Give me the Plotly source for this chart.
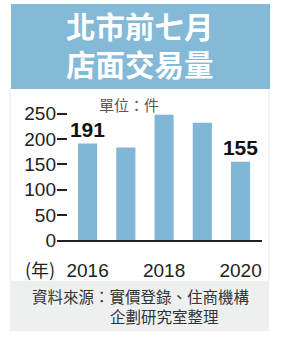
import plotly.graph_objects as go

years = [2016, 2017, 2018, 2019, 2020]
values = [191, 183, 248, 232, 155]
value_labels = ["191", "", "", "", "155"]
x_tick_vals = [2016, 2018, 2020]
x_tick_text = ["2016", "2018", "2020"]
y_tick_vals = [0, 50, 100, 150, 200, 250]
y_tick_text = ["0", "50", "100", "150", "200", "250"]
title_lines = ["北市前七月", "店面交易量"]
unit_text = "單位：件"
year_text = "(年)"
source_lines = ["資料來源：實價登錄、住商機構", "企劃研究室整理"]

W, H = 299, 342
BLUE = "#84b9d7"
BAR = "#80b7d6"
CJK = "Noto Sans CJK TC"
LAT = "Liberation Sans, Arial, sans-serif"


def px(x):
    return x / W


def py(y):
    return 1 - y / H


fig = go.Figure()
fig.add_trace(go.Bar(
    x=years, y=values, width=0.5, marker=dict(color=BAR, line=dict(width=0)),
    text=value_labels, textposition="outside", cliponaxis=False, constraintext="none",
    textfont=dict(family=LAT, size=21, color="#111"),
    texttemplate="<b>%{text}</b>",
))

y0_px, y_scale = 247, 0.529
ymax = 262
top_px = y0_px - ymax * y_scale

shapes = [
    dict(type="rect", xref="paper", yref="paper", x0=px(10), x1=px(269), y0=py(290), y1=py(88),
         fillcolor="white", line=dict(color="#e8e8e8", width=1), layer="below"),
    dict(type="rect", xref="paper", yref="paper", x0=px(11), x1=px(270), y0=py(89), y1=py(0),
         fillcolor=BLUE, line=dict(width=0), layer="below"),
    dict(type="rect", xref="paper", yref="paper", x0=px(10), x1=px(269), y0=py(342), y1=py(290),
         fillcolor="#eef0f0", line=dict(width=0), layer="below"),
]

annotations = [
    dict(text="<br>".join(title_lines), x=px(140), y=py(42), xref="paper", yref="paper", showarrow=False,
         font=dict(family=CJK, size=29.5, color="white", weight="bold"), xanchor="center", yanchor="middle"),
    dict(text=unit_text, x=px(97), y=py(105), xref="paper", yref="paper", showarrow=False,
         font=dict(family=CJK, size=15, color="#555"), xanchor="left", yanchor="middle"),
    dict(text=year_text, x=px(57), y=py(277), xref="paper", yref="paper", showarrow=False,
         font=dict(family=CJK, size=18, color="#222"), xanchor="right", yanchor="middle"),
    dict(text=source_lines[0], x=px(30), y=py(305), xref="paper", yref="paper", showarrow=False,
         font=dict(family=CJK, size=15.5, color="#333"), xanchor="left", yanchor="middle"),
    dict(text=source_lines[1], x=px(108), y=py(326), xref="paper", yref="paper", showarrow=False,
         font=dict(family=CJK, size=15.5, color="#333"), xanchor="left", yanchor="middle"),
]

fig.update_layout(
    width=W, height=H, margin=dict(l=0, r=0, t=0, b=0),
    paper_bgcolor="white", plot_bgcolor="rgba(0,0,0,0)",
    showlegend=False, shapes=shapes, annotations=annotations,
    bargap=0.5,
    xaxis=dict(domain=[px(57), px(262)], range=[2015.2, 2020.56],
               tickvals=x_tick_vals, ticktext=x_tick_text, ticks="",
               ticklabelstandoff=12,
               showline=True, linecolor="#222", linewidth=1.5,
               showgrid=False, zeroline=False,
               tickfont=dict(family=LAT, size=19, color="#222")),
    yaxis=dict(domain=[1 - y0_px / H, 1 - top_px / H], range=[0, ymax],
               tickvals=y_tick_vals, ticktext=y_tick_text,
               ticks="inside", ticklen=10, tickcolor="#222", tickwidth=1.5,
               showline=False, showgrid=False, zeroline=False,
               tickfont=dict(family=LAT, size=19, color="#222")),
)

fig.write_html("out.html")
